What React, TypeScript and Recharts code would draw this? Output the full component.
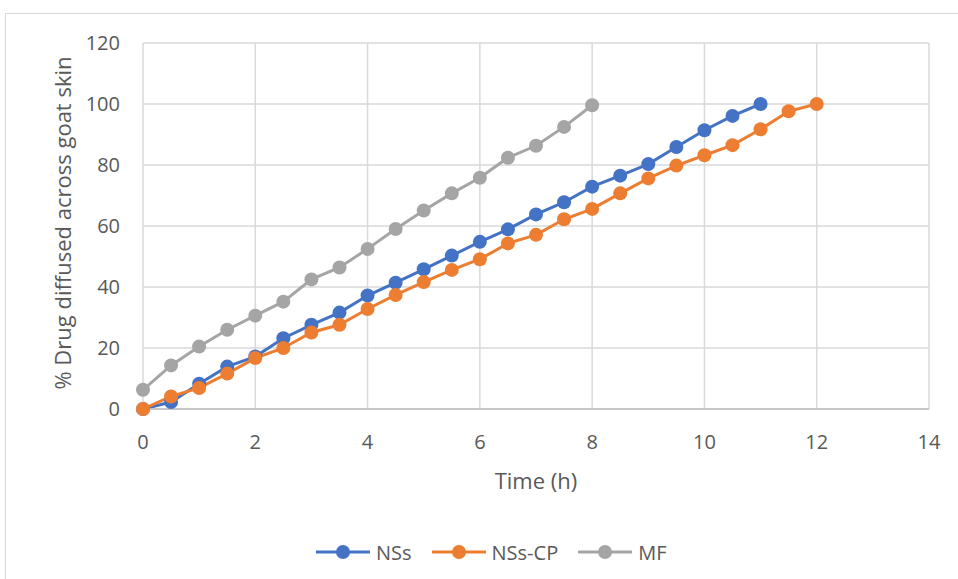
import React from 'react'
import { CartesianGrid, Line, LineChart, XAxis, YAxis } from 'recharts'

const FONT = '"Open Sans", sans-serif'
const TEXT = '#595959'

// time points (h)
const timeNSs = [0, 0.5, 1, 1.5, 2, 2.5, 3, 3.5, 4, 4.5, 5, 5.5, 6, 6.5, 7, 7.5, 8, 8.5, 9, 9.5, 10, 10.5, 11]
const timeNSsCP = [0, 0.5, 1, 1.5, 2, 2.5, 3, 3.5, 4, 4.5, 5, 5.5, 6, 6.5, 7, 7.5, 8, 8.5, 9, 9.5, 10, 10.5, 11, 11.5, 12]
const timeMF = [0, 0.5, 1, 1.5, 2, 2.5, 3, 3.5, 4, 4.5, 5, 5.5, 6, 6.5, 7, 7.5, 8]

// % drug diffused
const nss = [0, 2.3, 8.3, 13.9, 17.2, 23.2, 27.6, 31.6, 37.2, 41.4, 45.8, 50.3, 54.8, 58.9, 63.8, 67.8, 72.9, 76.5, 80.3, 85.9, 91.4, 96.1, 100]
const nssCP = [0, 4.1, 6.9, 11.6, 16.7, 20.0, 25.1, 27.6, 32.8, 37.4, 41.6, 45.6, 49.1, 54.3, 57.1, 62.2, 65.6, 70.7, 75.6, 79.8, 83.2, 86.5, 91.7, 97.6, 100]
const mf = [6.3, 14.3, 20.5, 26.0, 30.6, 35.2, 42.5, 46.4, 52.5, 59.0, 65.1, 70.7, 75.8, 82.4, 86.3, 92.5, 99.6]

const xTicks = [0, 2, 4, 6, 8, 10, 12, 14]
const yTicks = [0, 20, 40, 60, 80, 100, 120]

const seriesNames = ['NSs', 'NSs-CP', 'MF']
const seriesColors = ['#4472C4', '#ED7D31', '#A5A5A5']

const toPoints = (ts: number[], vs: number[]) => ts.map((t, i) => ({ t, v: vs[i] }))

const series = [
  toPoints(timeNSs, nss),
  toPoints(timeNSsCP, nssCP),
  toPoints(timeMF, mf),
]

const YTitle = ({ viewBox }: any) => {
  const cy = viewBox.y + viewBox.height / 2 - 3
  return (
    <text
      x={62}
      y={cy}
      transform={`rotate(-90, 62, ${cy})`}
      textAnchor="middle"
      dominantBaseline="central"
      fontFamily={FONT}
      fontSize={22}
      fill={TEXT}
    >
      % Drug diffused across goat skin
    </text>
  )
}

const XTitle = ({ viewBox }: any) => (
  <text
    x={viewBox.x + viewBox.width / 2}
    y={480}
    textAnchor="middle"
    dominantBaseline="central"
    fontFamily={FONT}
    fontSize={22}
    fill={TEXT}
  >
    Time (h)
  </text>
)

const Legend = () => (
  <div
    style={{
      position: 'absolute',
      left: 316,
      top: 538,
      display: 'flex',
      alignItems: 'center',
      gap: 20,
      fontFamily: FONT,
      fontSize: 20,
      color: TEXT,
    }}
  >
    {seriesNames.map((name, i) => (
      <div key={name} style={{ display: 'flex', alignItems: 'center' }}>
        <svg width={54} height={28}>
          <line x1={0} y1={14} x2={54} y2={14} stroke={seriesColors[i]} strokeWidth={3} />
          <circle cx={27} cy={14} r={7} fill={seriesColors[i]} />
        </svg>
        <span style={{ marginLeft: 6 }}>{name}</span>
      </div>
    ))}
  </div>
)

const App = () => {
  return (
    <div
      style={{
        position: 'absolute',
        left: 0,
        top: 0,
        width: 958,
        height: 579,
        overflow: 'hidden',
        background: '#fff',
      }}
    >
      <div
        style={{
          position: 'absolute',
          left: 5,
          top: 13,
          width: 1100,
          height: 800,
          border: '1px solid #d9d9d9',
        }}
      />
      <LineChart
        width={958}
        height={579}
        margin={{ top: 43, right: 29, left: 0, bottom: 0 }}
        style={{ position: 'absolute', left: 0, top: 0 }}
      >
        <CartesianGrid stroke="#d9d9d9" strokeWidth={1.5} />
        <XAxis
          dataKey="t"
          type="number"
          domain={[0, 14]}
          ticks={xTicks}
          allowDuplicatedCategory={false}
          height={170}
          tickLine={false}
          tickSize={0}
          tickMargin={26}
          axisLine={{ stroke: '#bfbfbf', strokeWidth: 1.5 }}
          tick={{ fill: TEXT, fontSize: 20, fontFamily: FONT }}
          label={<XTitle />}
        />
        <YAxis
          type="number"
          domain={[0, 120]}
          ticks={yTicks}
          width={143}
          tickLine={false}
          axisLine={false}
          tickSize={0}
          tickMargin={23}
          tick={{ fill: TEXT, fontSize: 20, fontFamily: FONT }}
          label={<YTitle />}
        />
        {series.map((pts, i) => (
          <Line
            key={seriesNames[i]}
            data={pts}
            dataKey="v"
            name={seriesNames[i]}
            type="linear"
            stroke={seriesColors[i]}
            strokeWidth={3}
            dot={{ r: 7, fill: seriesColors[i], stroke: 'none' }}
            activeDot={false}
            isAnimationActive={false}
          />
        ))}
      </LineChart>
      <Legend />
    </div>
  )
}

export default App
